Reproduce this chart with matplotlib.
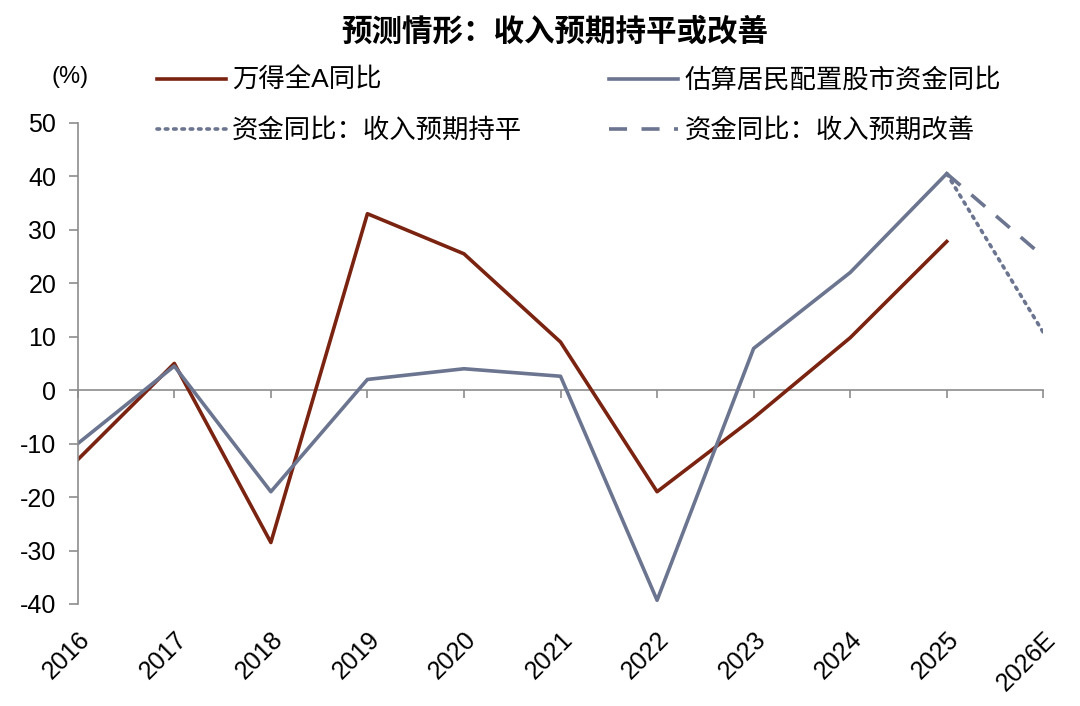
import matplotlib.pyplot as plt
import numpy as np

plt.rcParams['font.family'] = ['Liberation Sans', 'Noto Sans CJK SC']
plt.rcParams['axes.unicode_minus'] = False

years = ['2016', '2017', '2018', '2019', '2020', '2021', '2022', '2023', '2024', '2025', '2026E']
wind_a = [-13, 5, -28.5, 33, 25.5, 9, -19, -5.2, 9.8, 27.8]
fund_flow = [-10, 4.5, -19, 2, 4, 2.6, -39.3, 7.8, 22, 40.5]
flat_2026 = 10.8
better_2026 = 25

red = '#7a2311'
blue = '#6c7590'
grey = '#8c8c8c'

fig = plt.figure(figsize=(10.8, 7.06), dpi=100)
ax = fig.add_axes([0.072, 0.1445, 0.894, 0.6815])

x = np.arange(len(years))
l1, = ax.plot(x[:10], wind_a, color=red, lw=2.6, label='万得全A同比')
l2, = ax.plot(x[:10], fund_flow, color=blue, lw=2.6, label='估算居民配置股市资金同比')
l3, = ax.plot(x[9:11], [fund_flow[-1], flat_2026], color=blue, lw=2.6,
              linestyle=(0, (0.7, 1.6)), dash_capstyle='round', label='资金同比：收入预期持平')
l4, = ax.plot(x[9:11], [fund_flow[-1], better_2026], color=blue, lw=2.6,
              linestyle=(0, (5, 4)), label='资金同比：收入预期改善')

ax.set_xlim(0, 10)
ax.set_ylim(-40, 50)
ax.set_yticks(np.arange(-40, 51, 10))
ax.set_xticks(x)
ax.set_xticklabels(years, rotation=45, ha='right', va='top', rotation_mode='anchor', fontsize=18)
ax.tick_params(axis='x', length=0, pad=17)
ax.tick_params(axis='y', labelsize=18, length=6.5, width=1.2, color=grey, direction='out', pad=9)

for s in ['top', 'right', 'bottom']:
    ax.spines[s].set_visible(False)
ax.spines['left'].set_color(grey)
ax.spines['left'].set_linewidth(1.2)

# zero line with category ticks
sec = ax.secondary_xaxis(40 / 90)
sec.set_xticks(x)
sec.set_xticklabels([])
sec.tick_params(length=6, width=1.2, color=grey, direction='out')
sec.spines['bottom'].set_color(grey)
sec.spines['bottom'].set_linewidth(1.2)

fig.text(70 / 1080, 1 - 77 / 706, '(%)', fontsize=17, ha='center', va='center')

fig.legend([l1, l3, l2, l4], [l.get_label() for l in (l1, l3, l2, l4)],
           ncol=2, loc='upper left', bbox_to_anchor=(157 / 1080, 1 - 68 / 706),
           frameon=False, fontsize=19, handlelength=2.6, columnspacing=3.3,
           labelspacing=0.95, handletextpad=0.25, borderpad=0, borderaxespad=0)

fig.text(0.514, 1 - 33 / 706, '预测情形：收入预期持平或改善', fontsize=22,
         fontweight='bold', ha='center', va='center')

fig.savefig('out.png')
